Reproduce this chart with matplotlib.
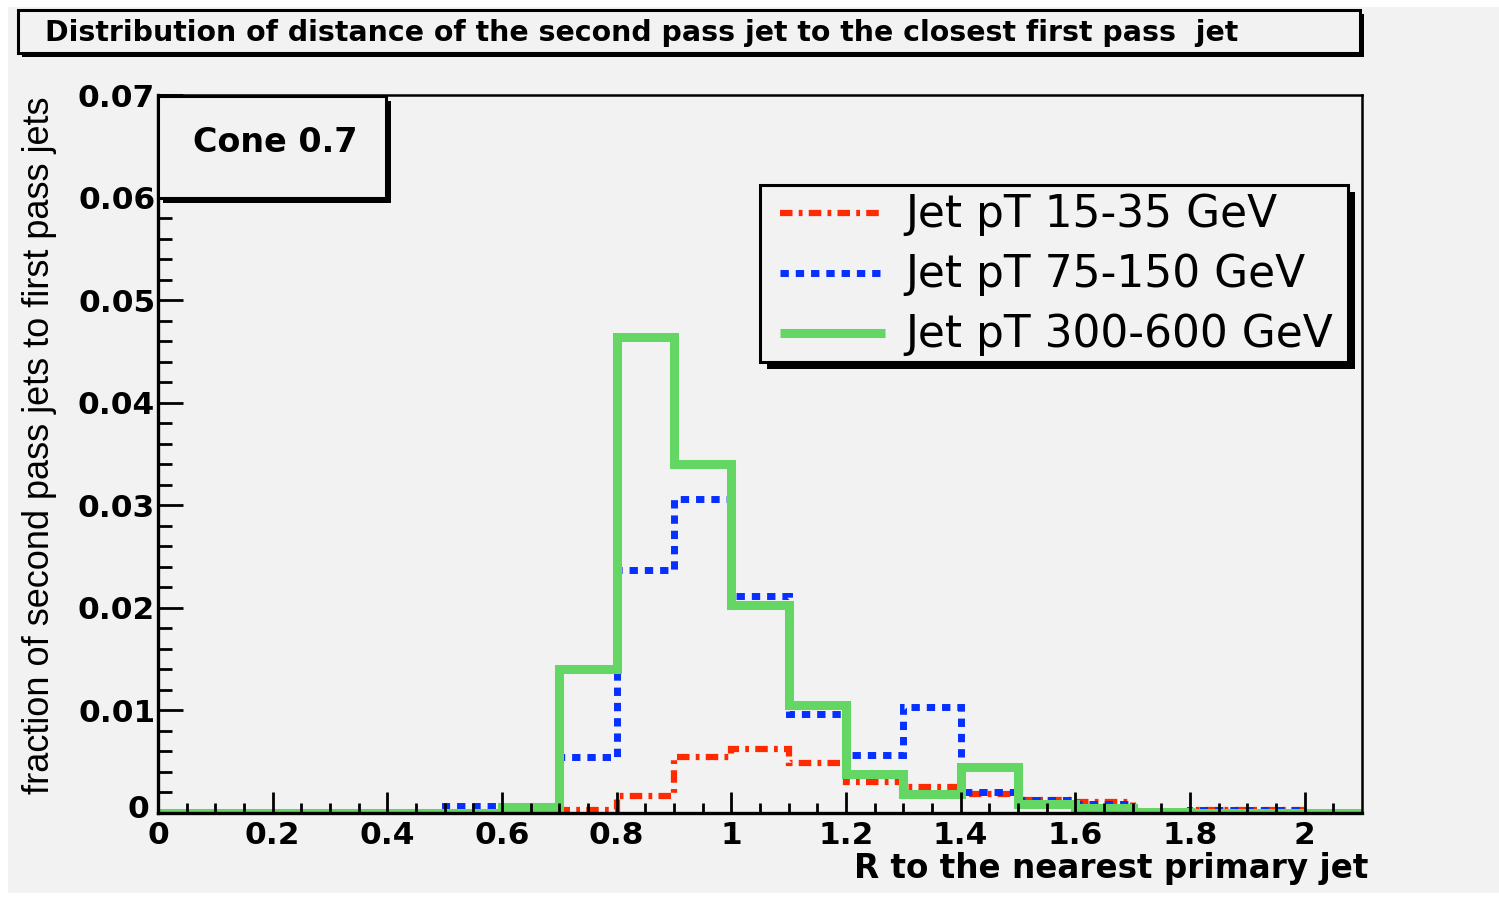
import numpy as np
import matplotlib
matplotlib.use("Agg")
import matplotlib.pyplot as plt
import matplotlib.transforms as mtransforms
from matplotlib.patches import Rectangle
from matplotlib.lines import Line2D

W, H = 1499, 897

# bin edges (R to nearest primary jet) and histogram contents
edges = np.round(np.arange(0.0, 2.15, 0.1), 2)
pt_15_35 = [0, 0, 0, 0, 0, 0, 0, 0.0003, 0.0017, 0.0055, 0.0062, 0.0049,
            0.0030, 0.0025, 0.0019, 0.0013, 0.0011, 0, 0.0003, 0.0003, 0]
pt_75_150 = [0, 0, 0, 0, 0, 0.0007, 0.0005, 0.0055, 0.0237, 0.0306, 0.0212,
             0.0097, 0.0057, 0.0103, 0.0020, 0.0013, 0.0009, 0, 0.0003, 0.0003, 0]
pt_300_600 = [0, 0, 0, 0, 0, 0, 0.0006, 0.0140, 0.0464, 0.0340, 0.0203,
              0.0105, 0.0038, 0.0019, 0.0045, 0.0009, 0.0005, 0.0001, 0, 0, 0]

labels = ["Jet pT 15-35 GeV", "Jet pT 75-150 GeV", "Jet pT 300-600 GeV"]
colors = ["#ff2a00", "#0530ff", "#63d663"]
x_ticks = [0, 0.2, 0.4, 0.6, 0.8, 1.0, 1.2, 1.4, 1.6, 1.8, 2.0]
x_ticklabels = ["0", "0.2", "0.4", "0.6", "0.8", "1", "1.2", "1.4", "1.6", "1.8", "2"]
y_ticks = [0, 0.01, 0.02, 0.03, 0.04, 0.05, 0.06, 0.07]
y_ticklabels = ["0", "0.01", "0.02", "0.03", "0.04", "0.05", "0.06", "0.07"]

styles = [
    dict(lw=4.5, linestyle=(0, (2.0, 1.0, 0.6, 1.0))),
    dict(lw=5.0, linestyle=(0, (1.2, 1.0))),
    dict(lw=6.5, linestyle="-"),
]

BG = "#f2f2f2"


def fx(px):
    return px / W


def fy(py):
    return 1 - py / H


def shadow_box(fig, x0, y0, x1, y1, off, lw=2.2):
    # ROOT style pave: black shadow behind a filled framed box
    fig.patches.append(Rectangle((fx(x0 + off), fy(y1 + off)), fx(x1 - x0), (y1 - y0) / H,
                                 transform=fig.transFigure, facecolor="black",
                                 edgecolor="none", zorder=5))
    fig.patches.append(Rectangle((fx(x0), fy(y1)), fx(x1 - x0), (y1 - y0) / H,
                                 transform=fig.transFigure, facecolor=BG,
                                 edgecolor="black", lw=lw, zorder=6))


fig = plt.figure(figsize=(W / 100, H / 100), dpi=100, facecolor="white")
fig.patches.append(Rectangle((fx(8), fy(893)), fx(W - 8), (893 - 7) / H,
                             transform=fig.transFigure, facecolor=BG,
                             edgecolor="none", zorder=-5))

ax = fig.add_axes([fx(158), fy(813), fx(1362 - 158), (813 - 95) / H])
ax.set_facecolor(BG)

for vals, col, st in zip([pt_15_35, pt_75_150, pt_300_600], colors, styles):
    ax.stairs(vals, edges, color=col, baseline=None, capstyle="butt", **st)

ax.set_xlim(0, 2.1)
ax.set_ylim(0, 0.07)

ax.set_xticks(x_ticks)
ax.set_xticklabels(x_ticklabels)
ax.set_xticks(np.arange(0, 2.1, 0.05), minor=True)
ax.set_yticks(y_ticks)
ax.set_yticklabels(y_ticklabels)
ax.set_yticks(np.arange(0, 0.0701, 0.002), minor=True)

ax.tick_params(which="both", direction="in", top=False, right=False, width=2.0,
               color="black")
ax.tick_params(axis="x", which="major", length=15, pad=6)
ax.tick_params(axis="x", which="minor", length=7.5)
ax.tick_params(axis="y", which="major", length=18, pad=2)
ax.tick_params(axis="y", which="minor", length=10)
for lab in ax.get_xticklabels() + ax.get_yticklabels():
    lab.set_fontfamily("DejaVu Sans")
    lab.set_fontweight("bold")
    lab.set_fontsize(22.5)

# lift the y "0" a little so it clears the x "0"
zero_lab = ax.yaxis.get_major_ticks()[0].label1
zero_lab.set_transform(zero_lab.get_transform() +
                       mtransforms.ScaledTranslation(-6 / 100, 6 / 100, fig.dpi_scale_trans))

for side in ["left", "bottom"]:
    ax.spines[side].set_linewidth(2.4)
for side in ["top", "right"]:
    ax.spines[side].set_linewidth(1.8)

fig.text(fx(1368), fy(868), "R to the nearest primary jet", ha="right", va="center",
         fontsize=23.5, fontweight="bold", family="DejaVu Sans")
fig.text(fx(40), fy(445), "fraction of second pass jets to first pass jets",
         rotation=90, ha="center", va="center", fontsize=26,
         family=["Liberation Sans Narrow", "Liberation Sans"])

# title pave
shadow_box(fig, 18, 10, 1360, 53, 4)
fig.text(fx(45), fy(33), "Distribution of distance of the second pass jet to the closest first pass  jet",
         ha="left", va="center", fontsize=20.4, fontweight="bold", family="DejaVu Sans",
         zorder=7)

# cone pave
shadow_box(fig, 158, 96, 386, 198, 5)
fig.text(fx(275), fy(143), "Cone 0.7", ha="center", va="center", fontsize=24,
         fontweight="bold", family="DejaVu Sans", zorder=7)

# legend
shadow_box(fig, 760, 185, 1348, 362, 7)
for i, (lab, col, st) in enumerate(zip(labels, colors, styles)):
    yy = 213 + 60 * i
    fig.add_artist(Line2D([fx(780), fx(885)], [fy(yy), fy(yy)], transform=fig.transFigure,
                          color=col, zorder=7, solid_capstyle="butt", **st))
    fig.text(fx(905), fy(yy + 1), lab, ha="left", va="center", fontsize=31.6,
             family="DejaVu Sans", zorder=7)

fig.savefig("out.png", dpi=100, facecolor=fig.get_facecolor())
